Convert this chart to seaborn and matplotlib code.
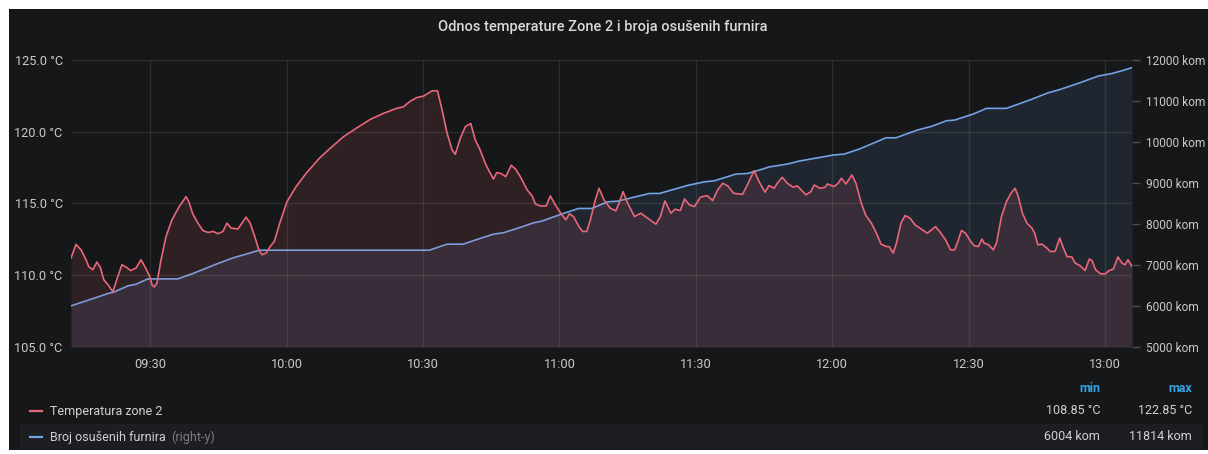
import matplotlib
matplotlib.use("Agg")
import matplotlib.pyplot as plt
import matplotlib.dates as mdates
from matplotlib.patches import Rectangle
import pandas as pd
import seaborn as sns

title = "Odnos temperature Zone 2 i broja osušenih furnira"
day = "2021-03-10"
start_clock = "09:00"

# (minutes after 09:00, temperature in °C)
temp_readings = [
    (12.6, 111.2), (13.7, 112.15), (14.8, 111.77), (15.9, 111.08), (16.5, 110.6),
    (17.4, 110.38), (18.3, 110.92), (19.1, 110.5), (19.8, 109.69), (20.9, 109.27),
    (21.8, 108.85), (22.9, 109.92), (23.8, 110.73), (24.8, 110.55), (25.7, 110.33),
    (26.9, 110.5), (28.0, 111.08), (28.9, 110.57), (29.9, 109.92), (30.4, 109.34),
    (30.9, 109.18), (31.5, 109.46), (32.4, 111.08), (33.5, 112.7), (34.8, 113.86),
    (36.4, 114.79), (37.9, 115.48), (38.5, 115.13), (39.4, 114.26), (40.5, 113.63),
    (41.6, 113.12), (42.7, 112.98), (43.9, 113.05), (44.9, 112.89), (46.0, 113.05),
    (46.9, 113.63), (47.8, 113.28), (49.3, 113.23), (50.2, 113.63), (51.1, 114.05),
    (52.0, 113.63), (53.0, 112.7), (53.9, 111.77), (54.6, 111.43), (55.5, 111.55),
    (56.4, 112.0), (57.3, 112.35), (58.5, 113.63), (60.1, 115.13), (62.1, 116.18),
    (64.3, 117.1), (67.2, 118.15), (69.6, 118.85), (72.5, 119.65), (75.5, 120.28),
    (78.4, 120.86), (81.3, 121.28), (84.2, 121.63), (85.7, 121.74), (87.2, 122.13),
    (88.7, 122.39), (90.1, 122.48), (92.0, 122.85), (93.2, 122.85), (94.2, 121.51),
    (95.3, 119.89), (96.4, 118.73), (97.1, 118.43), (98.2, 119.54), (99.3, 120.35),
    (100.5, 120.58), (101.5, 119.42), (102.4, 118.85), (103.7, 117.8), (104.6, 117.22),
    (105.5, 116.71), (106.2, 117.15), (107.1, 117.1), (108.2, 116.87), (109.4, 117.66),
    (110.4, 117.38), (111.4, 116.87), (112.9, 115.95), (114.0, 115.53), (114.7, 114.97),
    (115.8, 114.83), (117.1, 114.83), (118.0, 115.53), (119.1, 114.9), (120.3, 114.32),
    (121.4, 113.86), (122.2, 114.28), (123.1, 114.09), (124.2, 113.44), (125.1, 113.05),
    (126.0, 113.05), (126.8, 113.86), (127.9, 115.25), (128.7, 116.06), (129.8, 115.25),
    (131.2, 114.67), (132.4, 114.49), (133.1, 115.02), (134.0, 115.83), (135.0, 115.02),
    (136.5, 114.09), (137.9, 114.32), (139.4, 113.98), (141.2, 113.56), (142.2, 114.09),
    (143.2, 115.18), (144.5, 114.32), (145.4, 114.6), (146.6, 114.51), (147.5, 115.32),
    (148.6, 114.9), (149.7, 114.79), (151.0, 115.44), (152.5, 115.55), (153.7, 115.2),
    (154.8, 115.95), (155.9, 116.41), (157.0, 116.23), (158.3, 115.72), (159.3, 115.67),
    (160.3, 115.65), (161.5, 116.41), (162.8, 117.29), (163.9, 116.52), (165.2, 115.79),
    (166.1, 116.25), (167.2, 116.06), (167.9, 116.41), (169.0, 116.83), (170.1, 116.41),
    (171.4, 116.13), (172.3, 116.23), (174.2, 115.6), (175.3, 115.83), (176.0, 116.29),
    (177.3, 116.06), (178.4, 116.13), (178.9, 116.36), (180.4, 116.18), (181.3, 116.41),
    (182.0, 116.76), (183.0, 116.36), (184.3, 116.99), (185.2, 116.41), (186.3, 115.1),
    (187.3, 114.21), (188.6, 113.63), (189.7, 112.93), (190.7, 112.17), (191.9, 112.0),
    (192.5, 112.0), (193.4, 111.54), (194.1, 112.24), (195.1, 113.63), (196.0, 114.16),
    (197.1, 113.98), (198.2, 113.51), (199.6, 113.21), (200.9, 112.93), (201.8, 113.16),
    (202.7, 113.39), (203.6, 113.05), (204.9, 112.47), (206.0, 111.77), (206.9, 111.77),
    (207.6, 112.35), (208.4, 113.12), (209.3, 112.93), (210.2, 112.47), (211.2, 112.05),
    (212.1, 112.0), (212.9, 112.52), (213.4, 112.24), (214.4, 112.12), (215.4, 111.77),
    (216.1, 112.24), (217.2, 114.09), (218.3, 115.13), (219.3, 115.72), (220.2, 116.06),
    (220.9, 115.48), (221.8, 114.32), (222.8, 113.63), (223.9, 113.28), (224.5, 112.93),
    (225.2, 112.12), (226.1, 112.17), (227.2, 111.89), (227.9, 111.66), (229.0, 111.66),
    (230.0, 112.59), (230.7, 112.0), (231.6, 111.31), (232.7, 111.27), (233.4, 110.85),
    (234.5, 110.66), (235.6, 110.33), (236.5, 111.13), (237.1, 111.03), (237.9, 110.38),
    (239.0, 110.1), (240.0, 110.1), (240.9, 110.33), (241.8, 110.43), (242.8, 111.27),
    (243.7, 110.85), (244.4, 110.73), (245.0, 111.08), (245.9, 110.61),
]

# (minutes after 09:00, dried veneer count)
count_readings = [
    (12.6, 6004), (15.9, 6124), (18.1, 6206), (20.7, 6304), (22.1, 6343),
    (25.1, 6490), (26.9, 6531), (29.5, 6661), (36.1, 6661), (39.4, 6792),
    (44.5, 7019), (48.2, 7173), (51.1, 7264), (54.0, 7361), (91.4, 7361),
    (95.3, 7508), (98.8, 7508), (101.9, 7623), (105.5, 7752), (107.6, 7784),
    (110.6, 7889), (114.3, 8028), (116.1, 8069), (120.2, 8232), (124.2, 8379),
    (127.1, 8379), (130.6, 8540), (132.8, 8558), (139.8, 8745), (142.0, 8745),
    (148.2, 8941), (151.9, 9029), (154.0, 9053), (158.8, 9217), (161.4, 9233),
    (164.3, 9327), (166.1, 9392), (170.1, 9461), (172.7, 9534), (178.9, 9656),
    (180.0, 9680), (182.6, 9705), (186.0, 9830), (191.8, 10103), (194.0, 10103),
    (198.7, 10291), (202.0, 10388), (205.1, 10518), (206.9, 10535), (211.0, 10682),
    (213.9, 10820), (218.3, 10820), (223.8, 11040), (227.5, 11202), (229.7, 11268),
    (234.1, 11431), (238.5, 11609), (241.5, 11671), (243.7, 11739), (245.9, 11814),
]

temp_ticks = [105, 110, 115, 120, 125]
count_ticks = [5000, 6000, 7000, 8000, 9000, 10000, 11000, 12000]
time_ticks = ["09:30", "10:00", "10:30", "11:00", "11:30", "12:00", "12:30", "13:00"]
series_names = ["Temperatura zone 2", "Broj osušenih furnira"]
axis_note = "(right-y)"

BG = "#161719"
RED = "#e8677a"
BLUE = "#73a2e6"
TXT = "#c8c9cb"

plt.rcParams["font.family"] = ["Roboto", "DejaVu Sans"]

base = pd.Timestamp(f"{day} {start_clock}")


def to_frame(readings, col):
    df = pd.DataFrame(readings, columns=["minute", col])
    df["time"] = base + pd.to_timedelta(df["minute"], unit="min")
    return df


temp = to_frame(temp_readings, "temp")
count = to_frame(count_readings, "count")

W, H = 1208, 454
fig = plt.figure(figsize=(W / 100, H / 100), dpi=100, facecolor="white")
fig.patches.append(Rectangle((9 / W, 4 / H), (W - 9) / W, (H - 13) / H,
                             transform=fig.transFigure, facecolor=BG,
                             edgecolor="none", zorder=-10))
fig.patches.append(Rectangle((20 / W, 5 / H), (1203 - 20) / W, 25 / H,
                             transform=fig.transFigure, facecolor="#1c1e22",
                             edgecolor="none", zorder=-9))

rect = [71 / W, 1 - 347 / H, (1132 - 71) / W, (347 - 60) / H]
ax = fig.add_axes(rect)          # count series, ticks on the right
ax.set_facecolor("none")
ax2 = ax.twinx()                 # temperature series, ticks on the left

# count (right axis)
ax.fill_between(count["time"], count["count"], count_ticks[0],
                color=BLUE, alpha=0.11, linewidth=0)
sns.lineplot(data=count, x="time", y="count", ax=ax, color=BLUE,
             linewidth=1.2, legend=False)
ax.set_ylim(count_ticks[0], count_ticks[-1])
ax.set_yticks(count_ticks)
ax.set_yticklabels([f"{v} kom" for v in count_ticks])
ax.yaxis.tick_right()
ax.yaxis.set_label_position("right")
ax.tick_params(axis="y", colors="#4a4c50", labelcolor=TXT, length=6,
               width=1, pad=4, labelsize=8.6)

# temperature (left axis)
ax2.fill_between(temp["time"], temp["temp"], temp_ticks[0],
                 color=RED, alpha=0.12, linewidth=0)
sns.lineplot(data=temp, x="time", y="temp", ax=ax2, color=RED,
             linewidth=1.2, legend=False)
ax2.set_ylim(temp_ticks[0], temp_ticks[-1])
ax2.set_yticks(temp_ticks)
ax2.set_yticklabels([f"{v:.1f} °C" for v in temp_ticks])
ax2.yaxis.tick_left()
ax2.yaxis.set_label_position("left")
ax2.tick_params(axis="y", length=0, pad=6, labelcolor=TXT, labelsize=9.2)

x0 = temp["time"].iloc[0]
x1 = temp["time"].iloc[-1]
for a in (ax, ax2):
    a.set_xlim(x0, x1)
    a.set_xlabel("")
    a.set_ylabel("")
    for s in a.spines.values():
        s.set_visible(False)

tick_times = [pd.Timestamp(f"{day} {t}") for t in time_ticks]
ax.set_xticks(tick_times)
ax.xaxis.set_major_formatter(mdates.DateFormatter("%H:%M"))
ax.tick_params(axis="x", length=0, pad=8, labelcolor=TXT, labelsize=9.2)

# grid drawn above both fills, below the lines
ax.grid(False)
ax2.xaxis.set_visible(True)
ax2.set_xticks(tick_times)
ax2.tick_params(axis="x", length=0, labelbottom=False, labeltop=False)
ax2.set_axisbelow("line")
ax2.grid(True, color="white", alpha=0.09, linewidth=1)

# title
fig.text(603 / W, 1 - 27 / H, title, ha="center", va="center",
         color="#d8d9da", fontsize=10.5, fontweight="medium")

# legend table
leg_y = [1 - 411 / H, 1 - 437 / H]
colors = [RED, BLUE]
mins = [f"{temp['temp'].min():.2f} °C", f"{count['count'].min()} kom"]
maxs = [f"{temp['temp'].max():.2f} °C", f"{count['count'].max()} kom"]
name_texts = []
for y, c, name, mn, mx in zip(leg_y, colors, series_names, mins, maxs):
    fig.add_artist(plt.Line2D([30 / W, 42 / W], [y, y], color=c, linewidth=1.6,
                              transform=fig.transFigure))
    name_texts.append(fig.text(50 / W, y, name, ha="left", va="center",
                               color="#d0d1d3", fontsize=9))
    fig.text(1100 / W, y, mn, ha="right", va="center", color="#d0d1d3", fontsize=9)
    fig.text(1192 / W, y, mx, ha="right", va="center", color="#d0d1d3", fontsize=9)
fig.canvas.draw()
fig.add_artist(matplotlib.text.Annotation(
    axis_note, xy=(1, 0.5), xycoords=name_texts[1], xytext=(4, 0),
    textcoords="offset points", ha="left", va="center",
    color="#7b7c80", fontsize=9))
fig.text(1100 / W, 1 - 388 / H, "min", ha="right", va="center", color="#33a2e5",
         fontsize=9, fontweight="bold")
fig.text(1192 / W, 1 - 388 / H, "max", ha="right", va="center", color="#33a2e5",
         fontsize=9, fontweight="bold")

fig.savefig("out.png", dpi=100, facecolor="white")
